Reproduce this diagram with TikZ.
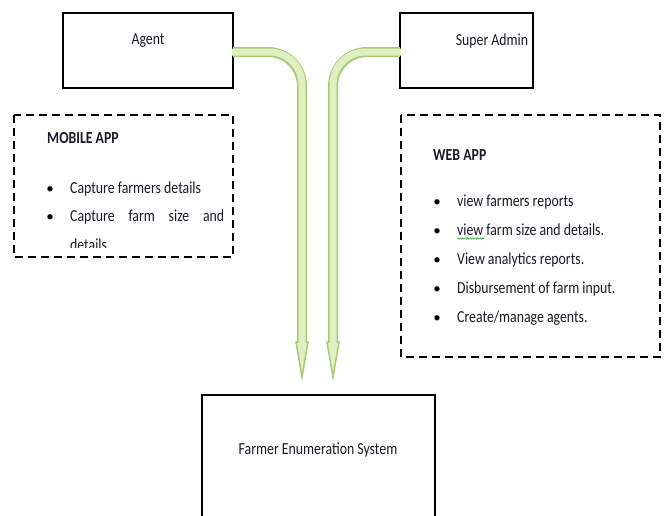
\documentclass[tikz,border=0pt]{standalone}
\usepackage{fontspec}
\usepackage{graphicx}
\setmainfont{Carlito}
\usetikzlibrary{decorations.pathmorphing}
\definecolor{arrowline}{RGB}{170,201,120}
\definecolor{arrowfill}{RGB}{222,239,194}
\definecolor{spellgreen}{RGB}{60,170,60}
\definecolor{txt}{RGB}{25,25,40}
\newcommand{\tl}[1]{\scalebox{1}[1.22]{#1}}
\tikzset{
  solidbox/.style={draw=black, line width=2.5pt},
  dashbox/.style={draw=black, line width=2.5pt, dash pattern=on 8pt off 5pt},
  lbl/.style={font=\fontsize{13.8}{16}\selectfont, text=txt, inner sep=0pt},
  itm/.style={font=\fontsize{13.8}{16}\selectfont, text=txt, inner sep=0pt, anchor=base west},
  bul/.style={font=\fontsize{15}{16}\selectfont, inner sep=0pt, anchor=base},
  hd/.style={font=\fontsize{13.8}{16}\selectfont\bfseries, text=txt, inner sep=0pt, anchor=base west},
  shaftout/.style={draw=arrowline, line width=10pt, rounded corners=34pt},
  shaftin/.style={draw=arrowfill, line width=7pt, rounded corners=32.5pt},
  headst/.style={draw=arrowline, fill=arrowfill, line width=1.5pt, line join=miter},
  spell/.style={draw=spellgreen, line width=0.6pt, decorate, decoration={snake, amplitude=0.7pt, segment length=2.5pt}},
}
\begin{document}
\begin{tikzpicture}[x=1pt,y=-1pt]
\useasboundingbox (0,0) rectangle (665,515);
\clip (0,0) rectangle (665,515);
% boxes
\draw[solidbox] (63,13) rectangle (233,88);
\node[lbl] (agent) at (148,41) {\tl{Agent}};
\coordinate (agentR) at (233,52);
\draw[solidbox] (400,13) rectangle (533,88);
\node[lbl] (admin) at (492,41) {\tl{Super Admin}};
\coordinate (adminL) at (400,52);
\draw[solidbox] (202,395) rectangle (435,540);
\node[lbl] (fes) at (318,450) {\tl{Farmer Enumeration System}};
% arrows
\coordinate (tipL) at (302,377);
\coordinate (tipR) at (333,377);
\draw[headst] (296,342) -- (308,342) -- (tipL) -- cycle;
\draw[headst] (327,342) -- (339,342) -- (tipR) -- cycle;
\draw[shaftout] (agentR) -- (302,52) -- (302,342.7);
\draw[shaftin] (agentR) ++(-1,0) -- (302,52) -- (302,344.5);
\draw[shaftout] (adminL) -- (333,52) -- (333,342.7);
\draw[shaftin] (adminL) ++(1,0) -- (333,52) -- (333,344.5);
% mobile app
\begin{scope}
\clip (15,116) rectangle (232,247);
\node[hd] (mh) at (47,143) {\tl{MOBILE APP}};
\node[bul] at (50,193) {\textbullet};
\node[itm] (m1) at (70,193) {\tl{Capture farmers details}};
\node[bul] at (50,221) {\textbullet};
\node[itm] (m2) at (70,221) {\tl{\makebox[154pt][s]{Capture\hfill farm\hfill size\hfill and}}};
\node[itm] (m3) at (70,250) {\tl{details}};
\end{scope}
\draw[dashbox] (14,115) rectangle (233,257);
% web app
\draw[dashbox] (401,115) rectangle (660,357);
\node[hd] (wh) at (433,160) {\tl{WEB APP}};
\foreach \yy/\tt [count=\i] in {206/{view farmers reports},235/{view farm size and details.},264/{View analytics reports.},293/{Disbursement of farm input.},322/{Create/manage agents.}}{
  \node[bul] at (437,\yy) {\textbullet};
  \node[itm] (w\i) at (457,\yy) {\tl{\tt}};
}
\draw[spell] (457,238.5) -- (484,238.5);
\end{tikzpicture}
\end{document}
